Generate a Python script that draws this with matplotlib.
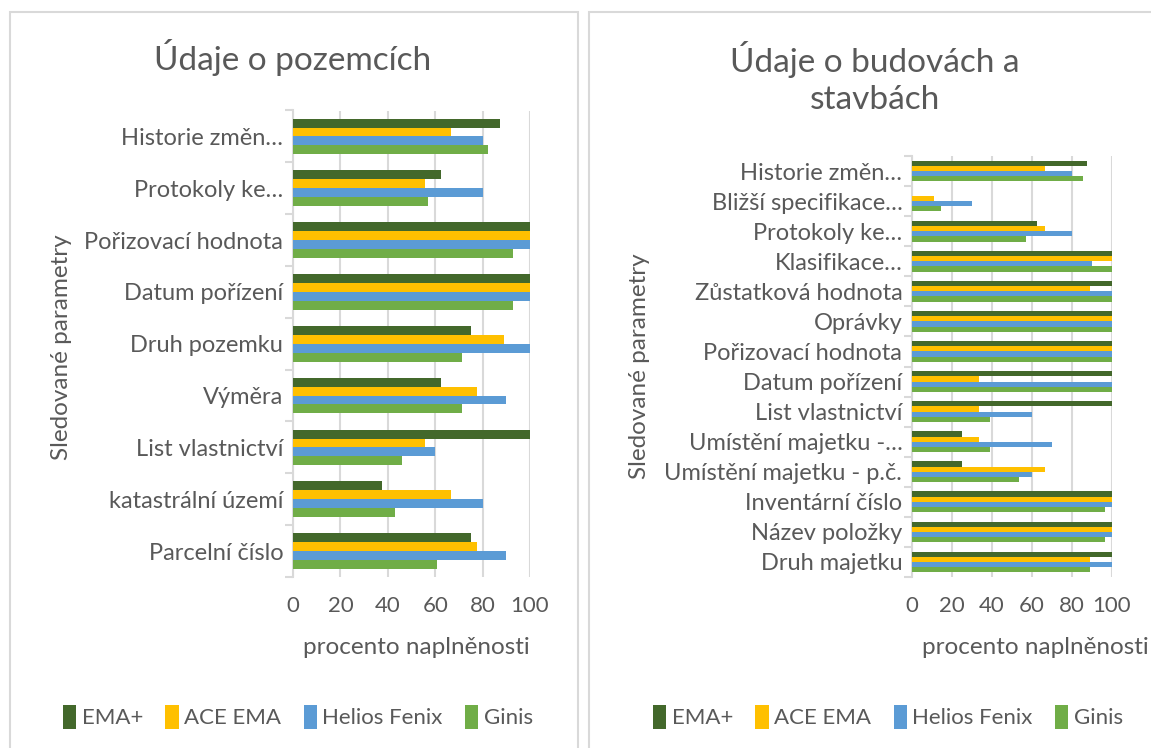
import numpy as np
import matplotlib.pyplot as plt
from matplotlib.patches import Rectangle, Patch

plt.rcParams['font.family'] = ['Lato', 'DejaVu Sans']

#series and colours
series = ['EMA+', 'ACE EMA', 'Helios Fenix', 'Ginis']
colors = ['#43682B', '#FFC000', '#5B9BD5', '#70AD47']

#land parcels (top to bottom)
land_cats = ['Historie změn…', 'Protokoly ke…', 'Pořizovací hodnota', 'Datum pořízení',
             'Druh pozemku', 'Výměra', 'List vlastnictví', 'katastrální území', 'Parcelní číslo']
land_ema   = [87.5, 62.5, 100, 100, 75.0, 62.5, 100, 37.5, 75.0]
land_ace   = [66.7, 55.6, 100, 100, 88.9, 77.8, 55.6, 66.7, 77.8]
land_hel   = [80.0, 80.0, 100, 100, 100, 90.0, 60.0, 80.0, 90.0]
land_ginis = [82.1, 57.1, 92.9, 92.9, 71.4, 71.4, 46.0, 42.9, 60.7]

#buildings (top to bottom)
bld_cats = ['Historie změn…', 'Bližší specifikace…', 'Protokoly ke…', 'Klasifikace…',
            'Zůstatková hodnota', 'Oprávky', 'Pořizovací hodnota', 'Datum pořízení',
            'List vlastnictví', 'Umístění majetku -…', 'Umístění majetku - p.č.',
            'Inventární číslo', 'Název položky', 'Druh majetku']
bld_ema   = [87.5, 0, 62.5, 100, 100, 100, 100, 100, 100, 25.0, 25.0, 100, 100, 100]
bld_ace   = [66.7, 11.1, 66.7, 100, 88.9, 100, 100, 33.3, 33.3, 33.3, 66.7, 100, 100, 88.9]
bld_hel   = [80.0, 30.0, 80.0, 90.0, 100, 100, 100, 100, 60.0, 70.0, 60.0, 100, 100, 100]
bld_ginis = [85.7, 14.3, 57.1, 100, 100, 100, 100, 100, 39.3, 39.3, 53.6, 96.4, 96.4, 89.3]

W, H = 1151, 748
TXT = '#595959'
GRID = '#d9d9d9'
fig = plt.figure(figsize=(W/100, H/100), dpi=100)

def px(x0, y0, x1, y1):
    return [x0/W, 1-y1/H, (x1-x0)/W, (y1-y0)/H]

#panel borders
for x0, x1 in [(9.5, 578), (589, 1200)]:
    fig.add_artist(Rectangle((x0/W, -0.1), (x1-x0)/W, 1.1-12/H, transform=fig.transFigure,
                             facecolor='none', edgecolor=GRID, linewidth=1.5))

def draw_panel(ax, cats, data):
    n = len(cats)
    y = np.arange(n)
    h = 0.172
    for k, vals in enumerate(data):
        ax.barh(y + (k-1.5)*h, vals, height=h, color=colors[k], edgecolor='none', zorder=3)
    ax.set_xlim(0, 100)
    ax.set_ylim(n-0.5, -0.5)
    ax.set_xticks(np.arange(0, 101, 20))
    ax.grid(axis='x', color=GRID, linewidth=1.5, zorder=0)
    ax.set_yticks(np.arange(n+1)-0.5)
    ax.set_yticklabels([])
    ax.set_yticks(y, minor=True)
    ax.set_yticklabels(cats, minor=True)
    ax.tick_params(axis='y', which='major', length=6, width=1.5, color=GRID)
    ax.tick_params(axis='y', which='minor', length=0, pad=7, labelsize=17, labelcolor=TXT)
    ax.tick_params(axis='x', length=0, pad=14, labelsize=16, labelcolor=TXT)
    for s in ['top', 'right', 'bottom']:
        ax.spines[s].set_visible(False)
    ax.spines['left'].set_color(GRID)
    ax.spines['left'].set_linewidth(1.5)

ax1 = fig.add_axes(px(293, 110.5, 530, 577))
draw_panel(ax1, land_cats, [land_ema, land_ace, land_hel, land_ginis])
ax2 = fig.add_axes(px(912, 156, 1111.7, 577))
draw_panel(ax2, bld_cats, [bld_ema, bld_ace, bld_hel, bld_ginis])

#titles
fig.text(293/W, 1-57/H, 'Údaje o pozemcích', ha='center', va='center', fontsize=24, color=TXT)
fig.text(875/W, 1-60/H, 'Údaje o budovách a', ha='center', va='center', fontsize=24, color=TXT)
fig.text(875/W, 1-100/H, 'stavbách', ha='center', va='center', fontsize=24, color=TXT)

#axis labels
fig.text(62/W, 1-347/H, 'Sledované parametry', rotation=90, ha='center', va='center', fontsize=17.5, color=TXT)
fig.text(640/W, 1-366/H, 'Sledované parametry', rotation=90, ha='center', va='center', fontsize=17.5, color=TXT)
fig.text(416/W, 1-647/H, 'procento naplněnosti', ha='center', va='center', fontsize=17.5, color=TXT)
fig.text(1035/W, 1-648/H, 'procento naplněnosti', ha='center', va='center', fontsize=17.5, color=TXT)

#legends
handles = [Patch(facecolor=c, edgecolor='none') for c in colors]
for cx in [298, 888]:
    leg = fig.legend(handles, series, loc='center', bbox_to_anchor=(cx/W, 1-717/H), ncol=4,
                     frameon=False, fontsize=16, handlelength=0.6, handleheight=1.3,
                     handletextpad=0.25, columnspacing=1.0, labelcolor=TXT)

plt.savefig('out.png', dpi=100)
